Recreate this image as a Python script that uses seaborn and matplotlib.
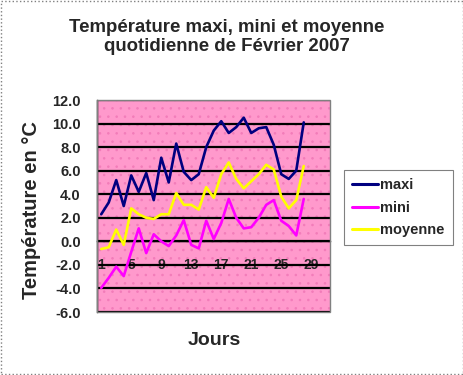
import numpy as np
import pandas as pd
import matplotlib
matplotlib.use("Agg")
import matplotlib.pyplot as plt
from matplotlib.patches import Rectangle
from matplotlib.lines import Line2D
import seaborn as sns

# daily values (February 2007)
jours = list(range(1, 29))
maxi = [2.3, 3.3, 5.2, 3.0, 5.6, 4.2, 5.8, 3.5, 7.1, 5.0, 8.3, 5.9, 5.2, 5.7,
        8.0, 9.4, 10.2, 9.2, 9.7, 10.5, 9.2, 9.6, 9.7, 8.2, 5.7, 5.3, 6.0, 10.1]
mini = [-3.95, -3.1, -2.15, -2.95, -0.9, 1.1, -1.0, 0.6, 0.0, -0.4, 0.5, 1.8, -0.3, -0.6,
        1.75, 0.2, 1.55, 3.6, 2.0, 1.1, 1.2, 2.0, 3.1, 3.5, 1.75, 1.3, 0.5, 3.6]
moyenne = [-0.65, -0.5, 1.0, -0.3, 2.8, 2.3, 2.0, 1.9, 2.3, 2.3, 4.1, 3.1, 3.1, 2.7,
           4.6, 3.7, 5.7, 6.7, 5.3, 4.5, 5.1, 5.7, 6.5, 6.1, 3.8, 2.8, 3.5, 6.4]
series = ["maxi", "mini", "moyenne"]
couleurs = {"maxi": "#000080", "mini": "#FF00FF", "moyenne": "#FFFF00"}
xticks = [1, 5, 9, 13, 17, 21, 25, 29]
yticks = [-6, -4, -2, 0, 2, 4, 6, 8, 10, 12]

df = pd.DataFrame({"Jour": jours * 3,
                   "Temp": maxi + mini + moyenne,
                   "Serie": [s for s in series for _ in jours]})

sns.set_style("white")
plt.rcParams["font.family"] = ["Liberation Sans", "DejaVu Sans"]
plt.rcParams["font.weight"] = "bold"
plt.rcParams["hatch.linewidth"] = 0.6

fig = plt.figure(figsize=(4.64, 3.75), dpi=100)
ax = fig.add_axes([0.2101, 0.168, 0.5011, 0.5653])

# pink dotted background of plot area
ax.set_facecolor("#FF99CC")
ax.add_patch(Rectangle((0, 0), 1, 1, transform=ax.transAxes, facecolor="none",
                       edgecolor="#F27CB9", hatch="..", linewidth=0, zorder=0))

sns.lineplot(data=df, x="Jour", y="Temp", hue="Serie", palette=couleurs,
             linewidth=1.9, ax=ax, legend=False, zorder=3)

ax.set_xlim(0.5, 31.5)
ax.set_ylim(-6, 12)
ax.set_yticks(yticks)
ax.set_yticklabels([f"{v:.1f}" for v in yticks], fontsize=10.5, fontweight="bold")
ax.set_xticks(xticks)
ax.set_xticklabels([str(v) for v in xticks], fontsize=10.5, fontweight="bold")
ax.set_xticks(np.arange(0.5, 32, 1), minor=True)
ax.set_xlabel("")
ax.set_ylabel("")

ax.yaxis.grid(True, color="black", linewidth=1.6)
ax.set_axisbelow(True)
ax.tick_params(axis="y", direction="out", length=4, width=1, color="black", pad=8)
ax.tick_params(axis="x", which="major", length=0, pad=12)
ax.tick_params(axis="x", which="minor", direction="out", length=3, width=0.8, color="black")

ax.spines["bottom"].set_position(("data", 0))
ax.spines["bottom"].set_color("black")
ax.spines["bottom"].set_linewidth(1.0)
ax.spines["left"].set_color("black")
ax.spines["left"].set_linewidth(1.0)
ax.spines["top"].set_visible(False)
ax.spines["right"].set_visible(False)
ax.add_patch(Rectangle((0, 0), 1, 1, transform=ax.transAxes, facecolor="none",
                       edgecolor="#808080", linewidth=1.0, zorder=4, clip_on=False))

# titles
fig.text(0.489, 0.901, "Température maxi, mini et moyenne\nquotidienne de Février 2007",
         ha="center", va="center", fontsize=13.4, fontweight="bold", linespacing=1.12)
fig.text(0.067, 0.44, "Température en °C", rotation=90, ha="center", va="center",
         fontsize=14.5, fontweight="bold")
fig.text(0.461, 0.093, "Jours", ha="center", va="center", fontsize=14, fontweight="bold")

# legend
handles = [Line2D([], [], color=couleurs[s], linewidth=2.2) for s in series]
leg = fig.legend(handles, series, loc="upper left", bbox_to_anchor=(0.741, 0.547),
                 frameon=True, fancybox=False, edgecolor="#808080", framealpha=1,
                 prop={"size": 10.5, "weight": "bold"}, handlelength=1.8,
                 handletextpad=0.15, labelspacing=0.6, borderpad=0.55, borderaxespad=0)
leg.get_frame().set_linewidth(0.8)

# dotted outer border
fig.add_artist(Rectangle((0.002, 0.003), 0.995, 0.994, transform=fig.transFigure,
                         facecolor="none", edgecolor="#808080", linestyle=":", linewidth=1))

fig.savefig("out.png", dpi=100)
